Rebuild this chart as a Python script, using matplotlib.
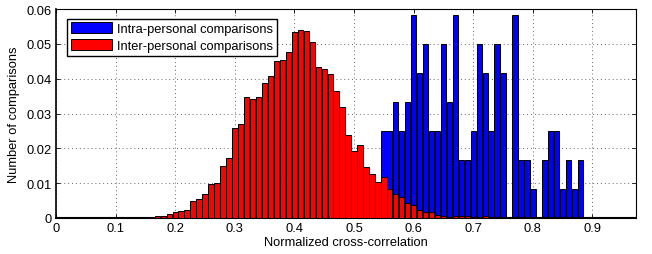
import matplotlib
matplotlib.use("Agg")
import matplotlib.pyplot as plt
import numpy as np

plt.rcParams['font.family'] = ['Liberation Sans', 'DejaVu Sans']

# Bin centres (normalized cross-correlation)
intra_centers = [0.55, 0.56, 0.57, 0.58, 0.59, 0.60, 0.61, 0.62, 0.63, 0.64,
                 0.65, 0.66, 0.67, 0.68, 0.69, 0.70, 0.71, 0.72, 0.73, 0.74,
                 0.75, 0.76, 0.77, 0.78, 0.79, 0.80, 0.81, 0.82, 0.83, 0.84,
                 0.85, 0.86, 0.87, 0.88]
intra_values = [0.0250, 0.0250, 0.0333, 0.0250, 0.0333, 0.0583, 0.0417, 0.0500, 0.0250, 0.0250,
                0.0500, 0.0333, 0.0583, 0.0167, 0.0167, 0.0250, 0.0500, 0.0417, 0.0250, 0.0500,
                0.0417, 0.0, 0.0583, 0.0167, 0.0167, 0.0083, 0.0, 0.0167, 0.0250, 0.0250,
                0.0083, 0.0167, 0.0083, 0.0167]

inter_centers = [0.17, 0.18, 0.19, 0.20, 0.21, 0.22, 0.23, 0.24, 0.25, 0.26,
                 0.27, 0.28, 0.29, 0.30, 0.31, 0.32, 0.33, 0.34, 0.35, 0.36,
                 0.37, 0.38, 0.39, 0.40, 0.41, 0.42, 0.43, 0.44, 0.45, 0.46,
                 0.47, 0.48, 0.49, 0.50, 0.51, 0.52, 0.53, 0.54, 0.55, 0.56,
                 0.57, 0.58, 0.59, 0.60, 0.61, 0.62, 0.63, 0.64, 0.65, 0.66,
                 0.67, 0.68, 0.69, 0.70, 0.71, 0.72]
inter_values = [0.0006, 0.0006, 0.0011, 0.0017, 0.0020, 0.0023, 0.0049, 0.0055, 0.0070, 0.0099,
                0.0101, 0.0148, 0.0172, 0.0259, 0.0270, 0.0348, 0.0342, 0.0348, 0.0387, 0.0409,
                0.0450, 0.0453, 0.0477, 0.0534, 0.0540, 0.0536, 0.0506, 0.0434, 0.0428, 0.0414,
                0.0365, 0.0320, 0.0239, 0.0192, 0.0209, 0.0145, 0.0126, 0.0103, 0.0117, 0.0082,
                0.0069, 0.0059, 0.0042, 0.0036, 0.0022, 0.0016, 0.0016, 0.0010, 0.0007, 0.0,
                0.0007, 0.0005, 0.0005, 0.0, 0.0, 0.0005]

x_ticks = [0, 0.1, 0.2, 0.3, 0.4, 0.5, 0.6, 0.7, 0.8, 0.9]
x_tick_labels = ['0', '0.1', '0.2', '0.3', '0.4', '0.5', '0.6', '0.7', '0.8', '0.9']
y_ticks = [0, 0.01, 0.02, 0.03, 0.04, 0.05, 0.06]
y_tick_labels = ['0', '0.01', '0.02', '0.03', '0.04', '0.05', '0.06']

FS = 9.3

fig = plt.figure(figsize=(6.52, 2.55), dpi=100)
ax = fig.add_axes([56/652, 36/255, 580/652, 209/255])

bw = 0.009
ax.bar(intra_centers, intra_values, width=bw, color=(0, 0, 1), edgecolor='black',
       linewidth=0.7, label='Intra-personal comparisons', zorder=2)
ax.bar(inter_centers, inter_values, width=bw, color=(1, 0, 0), edgecolor='black',
       linewidth=0.7, label='Inter-personal comparisons', zorder=3)

ax.set_xlim(0, 0.973)
ax.set_ylim(0, 0.06)
ax.set_xticks(x_ticks)
ax.set_xticklabels(x_tick_labels)
ax.set_yticks(y_ticks)
ax.set_yticklabels(y_tick_labels)
ax.tick_params(direction='in', top=True, right=True, labelsize=FS, length=3, width=0.6, pad=3)
ax.grid(True, linestyle=(0, (1, 3)), color='#666666', linewidth=0.7, zorder=0)
ax.set_axisbelow(True)
for s in ax.spines.values():
    s.set_linewidth(0.8)
ax.spines['bottom'].set_linewidth(1.5)
ax.spines['left'].set_linewidth(1.2)

ax.set_xlabel('Normalized cross-correlation', fontsize=FS, labelpad=1)
ax.set_ylabel('Number of comparisons', fontsize=FS, labelpad=5)

leg = ax.legend(loc='upper left', bbox_to_anchor=(0.008, 0.985), fontsize=FS,
                handlelength=3.2, handleheight=0.9, borderpad=0.3, labelspacing=0.3,
                handletextpad=0.4, fancybox=False, framealpha=1, edgecolor='black')
leg.get_frame().set_linewidth(1.0)

fig.savefig('out.png', dpi=100)
